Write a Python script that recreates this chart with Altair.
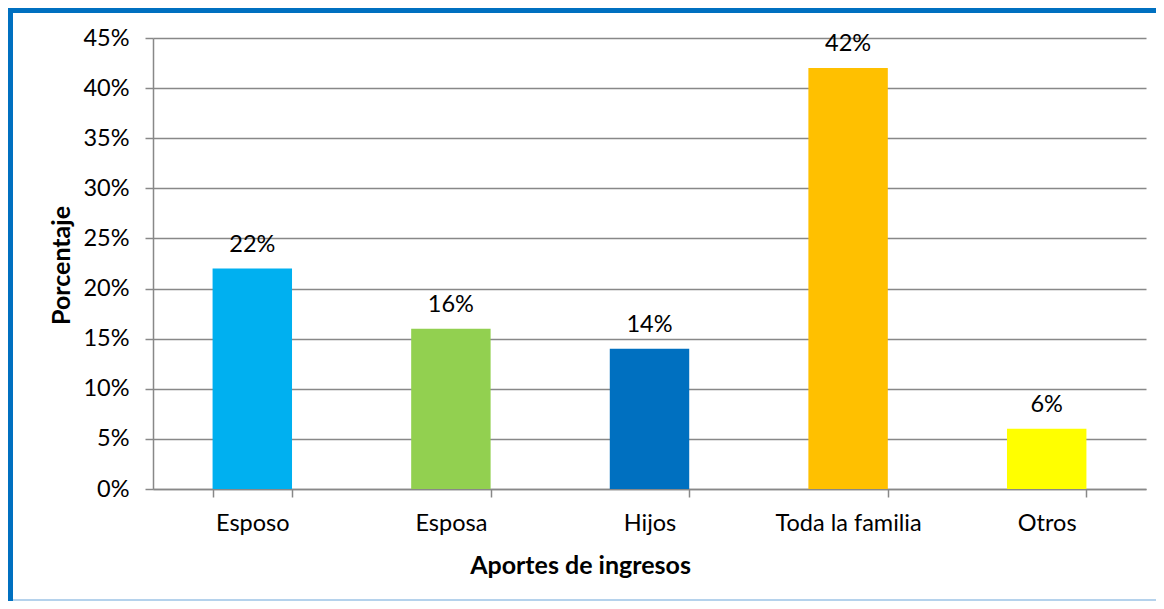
import altair as alt
import pandas as pd

categories = ["Esposo", "Esposa", "Hijos", "Toda la familia", "Otros"]
values = [0.22, 0.16, 0.14, 0.42, 0.06]
colors = ["#00B0F0", "#92D050", "#0070C0", "#FFC000", "#FFFF00"]
y_ticks = [0, 0.05, 0.10, 0.15, 0.20, 0.25, 0.30, 0.35, 0.40, 0.45]

df = pd.DataFrame({"cat": categories, "val": values})

FONT = "Lato"
LBL = 23.5
TTL = 25
W, H = 993, 451
PAD_L, PAD_T, PAD_R, PAD_B = 145, 30, 10, 112

x = alt.X(
    "cat:N",
    sort=categories,
    scale=alt.Scale(paddingInner=0.6, paddingOuter=0.3),
    axis=alt.Axis(
        title="Aportes de ingresos",
        labelAngle=0,
        labelFont=FONT,
        labelFontSize=LBL,
        labelColor="#000000",
        labelPadding=14,
        tickBand="extent",
        tickSize=8,
        tickColor="#888888",
        domainColor="#888888",
        domainWidth=1.5,
        tickWidth=1.5,
        grid=False,
        titleFont=FONT,
        titleFontSize=TTL,
        titleFontWeight="bold",
        titleColor="#000000",
        titleAnchor="start",
        titleAlign="center",
        titleBaseline="middle",
        titleX=427,
        titleY=76,
    ),
)

y = alt.Y(
    "val:Q",
    scale=alt.Scale(domain=[0, 0.45], nice=False),
    axis=alt.Axis(
        title="Porcentaje",
        values=y_ticks,
        format=".0%",
        labelFont=FONT,
        labelFontSize=LBL,
        labelColor="#000000",
        labelPadding=16,
        tickSize=8,
        tickColor="#888888",
        tickWidth=1.5,
        domainColor="#888888",
        domainWidth=1.5,
        gridColor="#888888",
        gridWidth=1.5,
        titleFont=FONT,
        titleFontSize=TTL,
        titleFontWeight="bold",
        titleColor="#000000",
        titleAngle=-90,
        titleAlign="center",
        titleBaseline="middle",
        titleX=-92,
        titleY=227,
    ),
)

bars = alt.Chart(df).mark_bar().encode(
    x=x,
    y=y,
    color=alt.Color("cat:N", sort=categories,
                    scale=alt.Scale(domain=categories, range=colors), legend=None),
)

labels = alt.Chart(df).mark_text(
    font=FONT, fontSize=LBL, color="#000000", baseline="alphabetic", dy=-17
).encode(
    x=alt.X("cat:N", sort=categories),
    y="val:Q",
    text=alt.Text("val:Q", format=".0%"),
)

one = pd.DataFrame({"k": [0]})
frame_left = alt.Chart(one).mark_rect(color="#0070C0").encode(
    x=alt.value(-PAD_L), x2=alt.value(-PAD_L + 5),
    y=alt.value(-PAD_T), y2=alt.value(H + PAD_B),
)
frame_top = alt.Chart(one).mark_rect(color="#0070C0").encode(
    x=alt.value(-PAD_L), x2=alt.value(W + PAD_R),
    y=alt.value(-PAD_T), y2=alt.value(-PAD_T + 5),
)
frame_bottom = alt.Chart(one).mark_rule(color="#9DC3E6", strokeWidth=1.5).encode(
    x=alt.value(-PAD_L + 5), x2=alt.value(W + PAD_R),
    y=alt.value(H + PAD_B - 1),
)

chart = alt.layer(bars, labels, frame_left, frame_top, frame_bottom).properties(
    width=W,
    height=H,
    autosize=alt.AutoSizeParams(type="none"),
    padding={"left": PAD_L, "top": PAD_T, "right": PAD_R, "bottom": PAD_B},
    background="white",
).configure_view(stroke=None)

chart.save("out.html", embed_options={"renderer": "svg", "actions": False})
